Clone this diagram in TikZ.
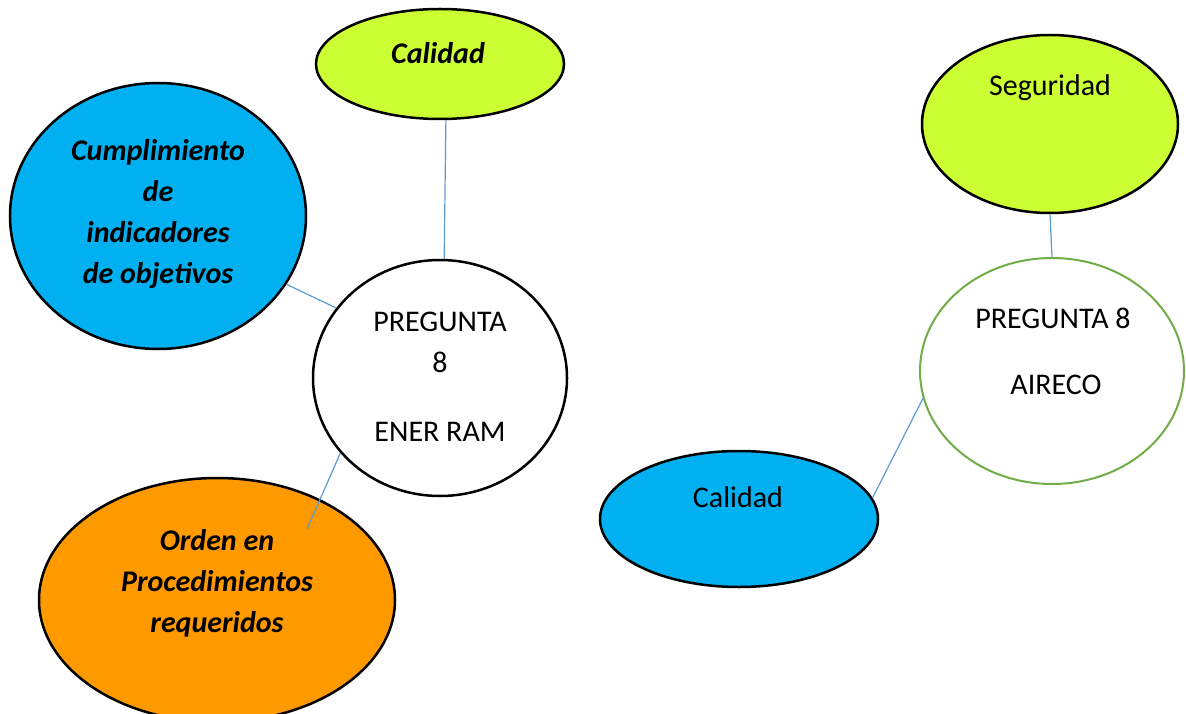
\documentclass[tikz,border=0pt]{standalone}
\usepackage{fontspec}
\setmainfont{Carlito}
\usetikzlibrary{shapes.geometric}
\definecolor{lime}{HTML}{CCFF33}
\definecolor{sky}{HTML}{00B0F0}
\definecolor{orng}{HTML}{FF9900}
\definecolor{grn}{HTML}{70AD47}
\definecolor{conn}{HTML}{5B9BD5}
\tikzset{
  blob/.style={ellipse, draw=black, line width=2.5pt, inner sep=0pt},
  txt/.style={inner sep=0pt, align=center, font=\fontsize{30}{41}\selectfont},
  btxt/.style={txt, font=\fontsize{30}{41}\selectfont\bfseries\itshape},
  link/.style={draw=conn, line width=1.2pt}
}
\begin{document}
\begin{tikzpicture}[x=1pt,y=-1pt]
\useasboundingbox (0,0) rectangle (1186,714);
% shapes
\node[blob, fill=lime, minimum width=248pt, minimum height=110pt] (cal1) at (440,64) {};
\node[blob, fill=sky, minimum width=296pt, minimum height=266pt] (cump) at (158,216) {};
\node[blob, fill=white, minimum width=254pt, minimum height=236pt] (p1) at (440,378) {};
\node[blob, fill=orng, minimum width=356pt, minimum height=244pt] (orden) at (217,600) {};
\node[blob, fill=lime, minimum width=256pt, minimum height=178pt] (seg) at (1050,124) {};
\node[ellipse, draw=grn, line width=2pt, fill=white, inner sep=0pt, minimum width=264pt, minimum height=226pt] (p2) at (1052,371) {};
\node[blob, fill=sky, minimum width=278pt, minimum height=136pt] (cal2) at (739,519) {};
% texts
\node[btxt] (tcal1) at (438,53) {Calidad};
\node[btxt] (tcump) at (158,214) {Cumplimiento\\de\\indicadores\\de objetivos};
\node[txt] (tp1a) at (440,342) {PREGUNTA\\8};
\node[txt] (tp1b) at (440,432) {ENER RAM};
\node[btxt] (torden) at (217,583) {Orden en\\Procedimientos\\requeridos};
\node[txt] (tseg) at (1050,88) {Seguridad};
\node[txt] (tp2a) at (1053,318) {PREGUNTA 8};
\node[txt] (tp2b) at (1056,385) {AIRECO};
\node[txt] (tcal2) at (738,497) {Calidad};
% connectors
\coordinate (oend) at (307,529);
\draw[link] (cal1.-84) -- (p1.88);
\draw[link] (cump.-28) -- (p1.146);
\draw[link] (p1.-143) -- (oend);
\draw[link] (seg.south) -- (p2.north);
\draw[link] (p2.192) -- (cal2.9);
\end{tikzpicture}
\end{document}
